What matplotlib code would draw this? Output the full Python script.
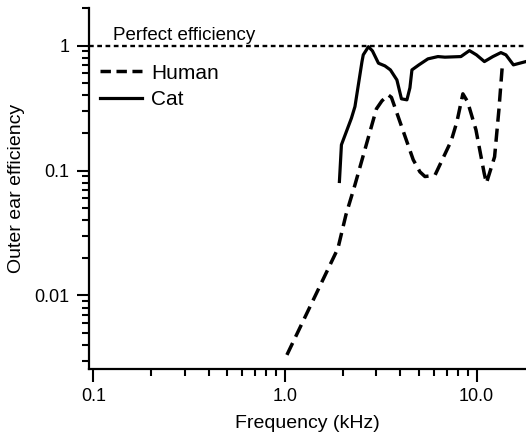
import matplotlib
matplotlib.use("Agg")
import matplotlib.pyplot as plt
from matplotlib.lines import Line2D
from matplotlib.ticker import LogLocator, NullFormatter, FixedLocator, FixedFormatter

plt.rcParams['font.family'] = ['Liberation Sans', 'DejaVu Sans']

# Human outer-ear efficiency (frequency in kHz)
human_freq = [1.024, 1.890, 2.081, 2.319, 3.001, 3.206, 3.458, 3.594, 4.294,
              4.670, 5.06, 5.375, 6.06, 7.37, 7.89, 8.48, 8.97, 9.92,
              10.95, 11.25, 12.41, 13.07, 13.67]
human_eff = [0.00334, 0.0238, 0.0442, 0.0768, 0.3115, 0.361, 0.403, 0.385, 0.176,
             0.1219, 0.0976, 0.0895, 0.0915, 0.1729, 0.245, 0.411, 0.356, 0.2117,
             0.0953, 0.0793, 0.1287, 0.306, 0.745]

# Cat outer-ear efficiency
cat_freq = [1.924, 1.971, 2.223, 2.319, 2.522, 2.562, 2.727, 2.861, 3.075,
            3.324, 3.550, 3.838, 4.053, 4.329, 4.488, 4.598, 5.0, 5.572,
            6.283, 6.834, 8.282, 9.173, 9.98, 10.98, 12.16, 13.39, 14.22,
            15.56, 18.08]
cat_eff = [0.0817, 0.1607, 0.2626, 0.325, 0.741, 0.843, 0.98, 0.907, 0.723,
           0.688, 0.639, 0.531, 0.375, 0.368, 0.459, 0.639, 0.701, 0.783,
           0.817, 0.808, 0.817, 0.912, 0.843, 0.745, 0.817, 0.879, 0.843,
           0.701, 0.745]

x_ticks = [0.1, 1.0, 10.0]
x_ticklabels = ["0.1", "1.0", "10.0"]
y_ticks = [0.01, 0.1, 1]
y_ticklabels = ["0.01", "0.1", "1"]

fig = plt.figure(figsize=(5.26, 4.34), dpi=100)
ax = fig.add_axes([89 / 526, (434 - 368.5) / 434, (526 - 89) / 526, (368.5 - 8) / 434])

ax.set_xscale('log')
ax.set_yscale('log')
ax.set_xlim(0.095, 18.1)
ax.set_ylim(0.0026, 2.0)

# perfect-efficiency reference
ax.axhline(1.0, color='black', lw=1.7, dashes=(2.0, 1.5))
ax.text(0.127, 1.11, "Perfect efficiency", fontsize=13.5, ha='left', va='baseline')

h_line, = ax.plot(human_freq, human_eff, color='black', lw=2.5,
                  dashes=(3.8, 2.0), solid_capstyle='butt', dash_capstyle='butt')
c_line, = ax.plot(cat_freq, cat_eff, color='black', lw=2.3,
                  solid_joinstyle='round')

leg = ax.legend([Line2D([], [], color='black', lw=2.5, dashes=(3.0, 1.6)),
                 Line2D([], [], color='black', lw=2.3)],
                ["Human", "Cat"], loc='upper left', frameon=False,
                bbox_to_anchor=(0.025, 0.846), borderaxespad=0, borderpad=0,
                handlelength=2.0, handletextpad=0.45, labelspacing=0.35,
                fontsize=15)

for s in ['top', 'right']:
    ax.spines[s].set_visible(False)
for s in ['left', 'bottom']:
    ax.spines[s].set_linewidth(1.6)

ax.xaxis.set_major_locator(FixedLocator(x_ticks))
ax.xaxis.set_major_formatter(FixedFormatter(x_ticklabels))
ax.yaxis.set_major_locator(FixedLocator(y_ticks))
ax.yaxis.set_major_formatter(FixedFormatter(y_ticklabels))
ax.xaxis.set_minor_locator(LogLocator(base=10, subs=range(2, 10)))
ax.yaxis.set_minor_locator(LogLocator(base=10, subs=range(2, 10)))
ax.xaxis.set_minor_formatter(NullFormatter())
ax.yaxis.set_minor_formatter(NullFormatter())

ax.tick_params(which='major', direction='out', length=9, width=1.5, labelsize=13, pad=5)
ax.tick_params(which='minor', direction='out', length=5, width=1.5)

ax.set_xlabel("Frequency (kHz)", fontsize=14, labelpad=7)
ax.set_ylabel("Outer ear efficiency", fontsize=14, labelpad=7)

fig.savefig("out.png", dpi=100)
